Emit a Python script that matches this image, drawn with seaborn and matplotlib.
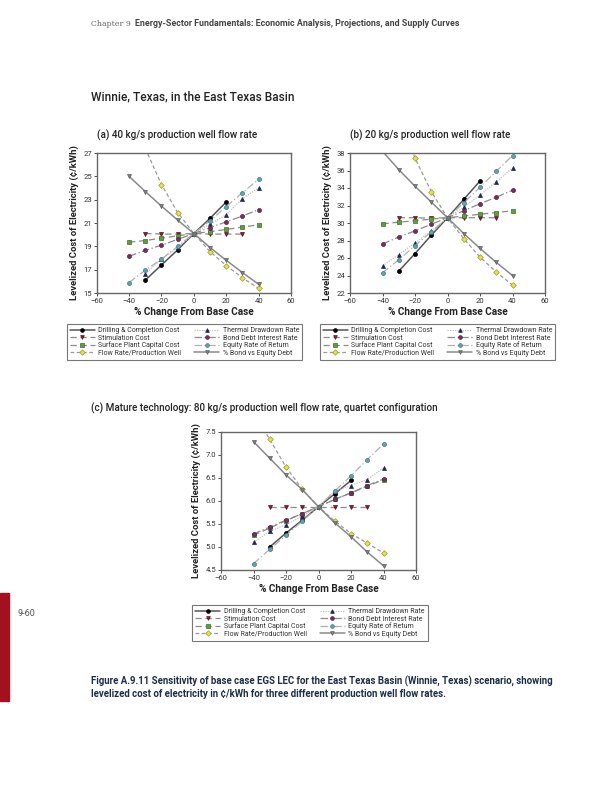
import numpy as np
import pandas as pd
import matplotlib
matplotlib.use("Agg")
import matplotlib.pyplot as plt
from matplotlib.lines import Line2D
import seaborn as sns

nan = np.nan
pct_change = [-40, -30, -20, -10, 0, 10, 20, 30, 40]
series_names = ["Drilling & Completion Cost", "Stimulation Cost", "Surface Plant Capital Cost",
                "Flow Rate/Production Well", "Thermal Drawdown Rate", "Bond Debt Interest Rate",
                "Equity Rate of Return", "% Bond vs Equity Debt"]

# Panel (a) 40 kg/s
drill_a = [nan, 16.1, 17.4, 18.7, 20.1, 21.4, 22.8, nan, nan]
stim_a = [nan, 20.1, 20.05, 20.05, 20.1, 20.05, 20.05, 20.05, nan]
surf_a = [19.35, 19.5, 19.7, 19.9, 20.1, 20.25, 20.45, 20.65, 20.85]
flow_a = [nan, 27.4, 24.3, 21.9, 20.1, 18.55, 17.35, 16.3, 15.4]
therm_a = [nan, 16.65, 17.9, 18.9, 20.1, 20.9, 21.7, 23.1, 24.0]
bond_a = [18.15, 18.65, 19.1, 19.6, 20.1, 20.6, 21.1, 21.6, 22.15]
equity_a = [15.9, 16.95, 17.9, 19.0, 20.1, 21.2, 22.4, 23.6, 24.75]
pctbond_a = [25.0, 23.7, 22.45, 21.25, 20.1, 18.9, 17.8, 16.75, 15.75]

# Panel (b) 20 kg/s
drill_b = [nan, 24.5, 26.5, 28.6, 30.6, 32.7, 34.8, nan, nan]
stim_b = [nan, 30.6, 30.6, 30.55, 30.6, 30.6, 30.6, 30.6, nan]
surf_b = [29.9, 30.1, 30.25, 30.45, 30.6, 30.8, 31.0, 31.2, 31.4]
flow_b = [nan, 42.5, 37.4, 33.6, 30.6, 28.2, 26.1, 24.4, 22.9]
therm_b = [25.1, 26.4, 27.7, 29.1, 30.6, 31.8, 33.2, 34.7, 36.3]
bond_b = [27.6, 28.4, 29.1, 29.85, 30.6, 31.4, 32.2, 32.95, 33.75]
equity_b = [24.3, 25.8, 27.4, 29.0, 30.6, 32.3, 34.1, 35.9, 37.7]
pctbond_b = [38.2, 36.1, 34.2, 32.4, 30.6, 28.8, 27.1, 25.5, 24.0]

# Panel (c) 80 kg/s mature technology
drill_c = [nan, 5.0, 5.3, 5.58, 5.87, 6.15, 6.44, nan, nan]
stim_c = [nan, 5.87, 5.87, 5.87, 5.87, 5.87, 5.87, 5.87, nan]
surf_c = [5.25, 5.41, 5.57, 5.72, 5.87, 6.03, 6.17, 6.31, 6.46]
flow_c = [7.9, 7.33, 6.73, 6.25, 5.87, 5.56, 5.29, 5.08, 4.87]
therm_c = [5.10, 5.34, 5.48, 5.67, 5.87, 6.21, 6.33, 6.46, 6.71]
bond_c = [5.28, 5.43, 5.58, 5.72, 5.87, 6.03, 6.17, 6.33, 6.47]
equity_c = [4.64, 4.95, 5.25, 5.56, 5.87, 6.21, 6.54, 6.89, 7.23]
pctbond_c = [7.28, 6.92, 6.56, 6.24, 5.87, 5.52, 5.22, 4.89, 4.59]

panel_a = [drill_a, stim_a, surf_a, flow_a, therm_a, bond_a, equity_a, pctbond_a]
panel_b = [drill_b, stim_b, surf_b, flow_b, therm_b, bond_b, equity_b, pctbond_b]
panel_c = [drill_c, stim_c, surf_c, flow_c, therm_c, bond_c, equity_c, pctbond_c]

styles = [
    dict(color="#555555", ls="-", lw=1.1, marker="o", mfc="#000000", mec="#000000"),
    dict(color="#8a8a8a", ls=(0, (5, 3)), lw=0.9, marker="v", mfc="#8b1c2c", mec="#5a1020"),
    dict(color="#8a8a8a", ls=(0, (5, 3)), lw=0.9, marker="s", mfc="#5f9e3c", mec="#3d6e25"),
    dict(color="#9a9a9a", ls=(0, (3, 2)), lw=0.9, marker="D", mfc="#e6e24a", mec="#9a9a30"),
    dict(color="#c0c0c0", ls=(0, (1, 1)), lw=0.9, marker="^", mfc="#1e2652", mec="#1e2652"),
    dict(color="#8a8a8a", ls=(0, (6, 2, 1, 2)), lw=0.9, marker="o", mfc="#7c2c5e", mec="#55203f"),
    dict(color="#b0b0b0", ls=(0, (6, 2, 1, 2)), lw=0.9, marker="o", mfc="#62a4ac", mec="#3c7a82"),
    dict(color="#8a8a8a", ls="-", lw=1.1, marker="v", mfc="#808080", mec="#606060"),
]

sns.set_theme(style="white")
plt.rcParams["font.family"] = ["Roboto", "DejaVu Sans"]

fig = plt.figure(figsize=(6.12, 7.92), dpi=100)
W, H = 612.0, 792.0

def fx(px):
    return px / W

def fy(py):
    return 1 - py / H

def make_axes(x0, x1, y0, y1):
    return fig.add_axes([fx(x0), fy(y1), fx(x1) - fx(x0), (y1 - y0) / H])

def draw_panel(ax, data, ylim, yticks, yfmt):
    for name, vals, st in zip(series_names, data, styles):
        df = pd.DataFrame({"x": pct_change, "y": vals}).dropna()
        sns.lineplot(data=df, x="x", y="y", ax=ax, color=st["color"], linestyle=st["ls"],
                     linewidth=st["lw"], marker=st["marker"], markersize=2.9,
                     markerfacecolor=st["mfc"], markeredgecolor=st["mec"],
                     markeredgewidth=0.5, legend=False)
    ax.set_xlim(-60, 60)
    ax.set_ylim(*ylim)
    ax.set_xticks([-60, -40, -20, 0, 20, 40, 60])
    ax.set_yticks(yticks)
    ax.set_yticklabels([yfmt.format(v) for v in yticks])
    for s in ax.spines.values():
        s.set_color("#666666")
        s.set_linewidth(1.0)
    ax.tick_params(axis="both", labelsize=5.5, colors="#333333", length=2, width=0.6,
                   direction="out", pad=1.5, bottom=True, left=True)
    ax.set_xlabel("% Change From Base Case", fontsize=7.2, fontweight="bold", color="#222222", labelpad=2)
    ax.set_ylabel("Levelized Cost of Electricity (¢/kWh)", fontsize=6.8, fontweight="bold",
                  color="#222222", labelpad=3)

ax_a = make_axes(96.7, 291, 153, 293)
draw_panel(ax_a, panel_a, (15, 27), [15, 17, 19, 21, 23, 25, 27], "{:g}")
ax_b = make_axes(350, 545, 153, 293)
draw_panel(ax_b, panel_b, (22, 38), [22, 24, 26, 28, 30, 32, 34, 36, 38], "{:g}")
ax_c = make_axes(221, 416, 431.5, 570)
draw_panel(ax_c, panel_c, (4.5, 7.5), [4.5, 5.0, 5.5, 6.0, 6.5, 7.0, 7.5], "{:.1f}")

def add_legend(cx, cy, fs):
    handles = [Line2D([0], [0], color=st["color"], linestyle=st["ls"], linewidth=st["lw"],
                      marker=st["marker"], markersize=2.7, markerfacecolor=st["mfc"],
                      markeredgecolor=st["mec"], markeredgewidth=0.5) for st in styles]
    leg = fig.legend(handles, series_names, ncol=2, loc="center", bbox_to_anchor=(fx(cx), fy(cy)),
                     fontsize=fs, frameon=True, fancybox=False, edgecolor="#555555",
                     handlelength=3.6, columnspacing=1.9, labelspacing=0.02,
                     borderpad=0.45, handletextpad=0.5, numpoints=1)
    leg.get_frame().set_linewidth(0.8)
    for t in leg.get_texts():
        t.set_color("#333333")

add_legend(184.5, 342, 5.0)
add_legend(437.5, 342, 5.0)
add_legend(310, 623, 5.0)

# Page text
fig.text(fx(91), fy(24), "Chapter 9", fontsize=5.6, color="#666666", family="DejaVu Serif", va="center")
fig.text(fx(135), fy(24), "Energy-Sector Fundamentals: Economic Analysis, Projections, and Supply Curves",
         fontsize=6.4, color="#444444", fontweight="bold", va="center")
fig.text(fx(91), fy(97), "Winnie, Texas, in the East Texas Basin", fontsize=8.6,
         color="#222222", fontweight="medium", va="center")
fig.text(fx(97), fy(135), "(a) 40 kg/s production well flow rate", fontsize=7.1,
         color="#222222", fontweight="medium", va="center")
fig.text(fx(350), fy(135), "(b) 20 kg/s production well flow rate", fontsize=7.1,
         color="#222222", fontweight="medium", va="center")
fig.text(fx(91), fy(408), "(c) Mature technology: 80 kg/s production well flow rate, quartet configuration",
         fontsize=7.1, color="#222222", fontweight="medium", va="center")
fig.text(fx(18), fy(614), "9-60", fontsize=6.5, color="#555555", va="center")
fig.text(fx(91), fy(681), "Figure A.9.11 Sensitivity of base case EGS LEC for the East Texas Basin (Winnie, Texas) scenario, showing",
         fontsize=6.9, color="#1c2d4a", fontweight="bold", va="center")
fig.text(fx(91), fy(694), "levelized cost of electricity in ¢/kWh for three different production well flow rates.",
         fontsize=6.9, color="#1c2d4a", fontweight="bold", va="center")

fig.patches.append(matplotlib.patches.Rectangle((0, fy(701)), fx(9), (701 - 593) / H,
                                                transform=fig.transFigure, color="#a3101f"))

fig.savefig("out.png", dpi=100)
